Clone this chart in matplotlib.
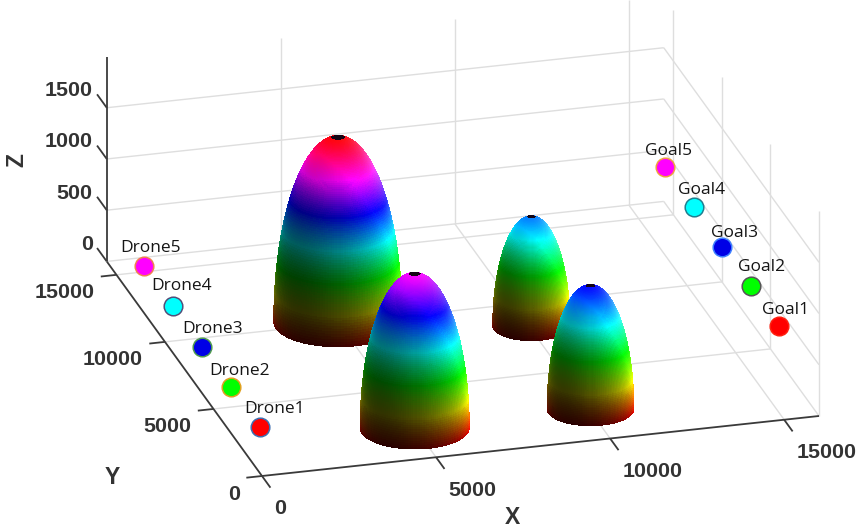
import numpy as np
import matplotlib
matplotlib.use('Agg')
import matplotlib.pyplot as plt
from matplotlib.colors import hsv_to_rgb
from mpl_toolkits.mplot3d import proj3d

# obstacles, back to front
dome_x = [5000, 10080, 5000, 10050]
dome_y = [10100, 8400, 2200, 2200]
dome_h = [1800, 1060, 1500, 1200]
dome_r = [1770, 1060, 1500, 1190]

drone_names = ['Drone1', 'Drone2', 'Drone3', 'Drone4', 'Drone5']
drone_x = [900, 900, 900, 900, 900]
drone_y = [3400, 6400, 9400, 12400, 15400]
drone_z = [0, 0, 0, 0, 0]

goal_names = ['Goal1', 'Goal2', 'Goal3', 'Goal4', 'Goal5']
goal_x = [15700, 15700, 15700, 15700, 15700]
goal_y = [3000, 5950, 8900, 11850, 14800]
goal_z = [500, 500, 500, 500, 500]

fill_cols = ['#ff0000', '#00ff00', '#0000e6', '#00ffff', '#ff00ff']
drone_edges = ['#3f6fb0', '#e0a020', '#4f9a50', '#50507a', '#f08050']
goal_edges = ['#ff2010', '#555555', '#3f80ff', '#1f7f90', '#f0a040']

xy_ticks = [0, 5000, 10000, 15000]
z_ticks = [0, 500, 1000, 1500]
xy_max = 16000
z_max = 2000

grid_col = '#dedede'
axis_col = '#3a3a3a'
text_col = '#333333'

# viewing geometry of the original
elev, phi = 22.7, 15.6
fig = plt.figure(figsize=(8.62, 5.31), dpi=100)
ax = fig.add_axes([0, 0, 1, 1], projection='3d', computed_zorder=False)
ax.set_proj_type('ortho')
ax.view_init(elev=elev, azim=-90 - phi)
ax.set_xlim(0, xy_max)
ax.set_ylim(0, xy_max)
ax.set_zlim(0, z_max)
ax.set_axis_off()
ax.patch.set_alpha(0)
aspect = (578, 577, 222)
ax.set_box_aspect(aspect)
ax.apply_aspect()


def to_px(x, y, z):
    xs, ys, _ = proj3d.proj_transform(x, y, z, ax.get_proj())
    return ax.transData.transform((xs, ys))


# scale and shift so that the box lands where it does in the picture
span = to_px(xy_max, 0, 0)[0] - to_px(0, 0, 0)[0]
ax.set_box_aspect(aspect, zoom=557 / span)
ax.apply_aspect()
o = to_px(0, 0, 0)
ax.set_position([(262 - o[0]) / 862, (531 - 476 - o[1]) / 531, 1, 1])
ax.apply_aspect()


def line(xs, ys, zs, col=grid_col, lw=1.0, zo=1):
    ax.plot(xs, ys, zs, color=col, lw=lw, zorder=zo, clip_on=False,
            solid_capstyle='butt')


# walls and floor
for t in xy_ticks[1:]:
    line([t, t], [0, xy_max], [0, 0])
    line([0, xy_max], [t, t], [0, 0])
    line([t, t], [xy_max, xy_max], [0, z_max])
    line([xy_max, xy_max], [t, t], [0, z_max])
line([xy_max, xy_max], [0, 0], [0, z_max])
for t in z_ticks:
    line([0, xy_max], [xy_max, xy_max], [t, t])
    line([xy_max, xy_max], [0, xy_max], [t, t])

# axes and tick marks
line([0, xy_max], [0, 0], [0, 0], axis_col, 1.3, 2)
line([0, 0], [0, xy_max], [0, 0], axis_col, 1.3, 2)
line([0, 0], [xy_max, xy_max], [0, z_max], axis_col, 1.3, 2)
for t in xy_ticks:
    line([t, t], [0, -870], [0, 0], axis_col, 1.3, 2)
    line([0, -450], [t, t], [0, 0], axis_col, 1.3, 2)
for t in z_ticks:
    line([0, 0], [xy_max, xy_max + 1000], [t, t], axis_col, 1.3, 2)

# lighting
p, e = np.radians(phi), np.radians(elev)
right = np.array([np.cos(p), -np.sin(p), 0])
up = np.array([np.sin(p) * np.sin(e), np.cos(p) * np.sin(e), np.cos(e)])
view = np.array([-np.sin(p) * np.cos(e), -np.cos(p) * np.cos(e), np.sin(e)])
light = 0.55 * right + 0.78 * up + 0.1 * view
light = light / np.linalg.norm(light)

for i in range(len(dome_x)):
    cx, cy, h, r = dome_x[i], dome_y[i], dome_h[i], dome_r[i]
    lat = np.linspace(0, np.pi / 2, 110)
    lon = np.linspace(0, 2 * np.pi, 140)
    LAT, LON = np.meshgrid(lat, lon, indexing='ij')
    X = cx + r * np.cos(LAT) * np.cos(LON)
    Y = cy + r * np.cos(LAT) * np.sin(LON)
    Z = h * np.sin(LAT)

    mlat = (LAT[:-1, :-1] + LAT[1:, 1:]) / 2
    mlon = (LON[:-1, :-1] + LON[1:, 1:]) / 2
    nx = np.cos(mlat) * np.cos(mlon) / r
    ny = np.cos(mlat) * np.sin(mlon) / r
    nz = np.sin(mlat) / h
    nn = np.sqrt(nx ** 2 + ny ** 2 + nz ** 2)
    nx, ny, nz = nx / nn, ny / nn, nz / nn
    wrap = np.clip((nx * light[0] + ny * light[1] + nz * light[2] + 0.55) / 1.55, 0, 1)
    rim = 1 - np.clip(nx * view[0] + ny * view[1] + nz * view[2], 0, 1)
    val = np.clip(0.14 + 1.0 * wrap ** 1.7 + 0.35 * rim ** 2 + 0.3 * nz ** 2, 0, 1)
    spec = 0.35 * wrap ** 14

    hue = (h * np.sin(mlat) / 1800) % 1.0
    hsv = np.dstack([hue, np.ones_like(hue) - spec, val])
    rgb = hsv_to_rgb(hsv)
    rgb[np.sin(mlat) > 0.9945] = [0.08, 0.02, 0.08]
    ax.plot_surface(X, Y, Z, facecolors=rgb, rstride=1, cstride=1, shade=False,
                    linewidth=0.5, antialiased=False, zorder=3 + i, clip_on=False)


def point_labels(names, xs, ys, zs, edges, offsets):
    for j in range(len(names)):
        ax.plot([xs[j]], [ys[j]], [zs[j]], 'o', ms=13.4, mfc=fill_cols[j], mec=edges[j],
                mew=1.1, zorder=10, clip_on=False)
        q = proj3d.proj_transform(xs[j], ys[j], zs[j], ax.get_proj())[:2]
        ax.annotate(names[j], q, xytext=(offsets[j][0], -offsets[j][1]),
                    textcoords='offset pixels', ha='center', va='center',
                    fontsize=12.5, family='Open Sans', color='#151515', zorder=11,
                    annotation_clip=False)


point_labels(drone_names, drone_x, drone_y, drone_z, drone_edges,
             [(14, -18), (8, -16), (10, -18), (9, -20), (7, -18)])
point_labels(goal_names, goal_x, goal_y, goal_z, goal_edges,
             [(6, -16), (11, -19), (12, -14), (8, -17), (4, -16)])


def tick_label(x, y, z, s, dx, dy, ha):
    q = proj3d.proj_transform(x, y, z, ax.get_proj())[:2]
    ax.annotate(s, q, xytext=(dx, dy), textcoords='offset pixels', ha=ha, va='center',
                fontsize=15.4, fontweight='bold', family='Liberation Sans', color=text_col,
                zorder=12, annotation_clip=False)


for t in xy_ticks:
    tick_label(t, 0, 0, str(t), 12, -33, 'left')
    tick_label(0, t, 0, str(t), -22, -18, 'right')
for t in z_ticks:
    tick_label(0, xy_max, t, str(t), -14, 17, 'right')

for s, px, py, rot in [('X', 512, 517, 0), ('Y', 112, 478, 0), ('Z', 17, 160, 90)]:
    fig.text(px / 862, 1 - py / 531, s, ha='center', va='center', rotation=rot,
             fontsize=16.5, fontweight='bold', family='Liberation Sans', color=text_col)

fig.savefig('out.png', dpi=100)
